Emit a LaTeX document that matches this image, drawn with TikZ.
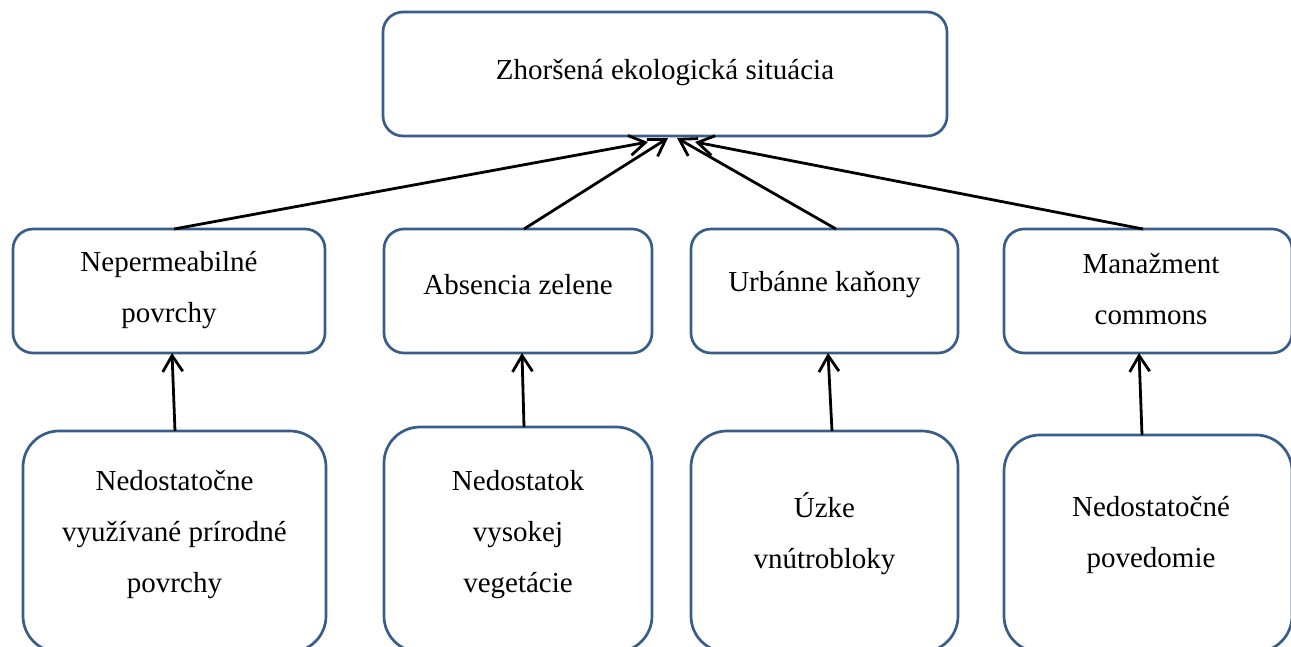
\documentclass[tikz,border=0pt]{standalone}
\usepackage{fontspec}
\setmainfont{Liberation Serif}
\usepackage{tikz}
\usetikzlibrary{arrows.meta}
\definecolor{c385d8a}{RGB}{56,93,138}

\begin{document}
\begin{tikzpicture}[x=1pt, y=-1pt, inner sep=0pt, outer sep=0pt,
  rect/.style={draw=c385d8a, line width=2.7pt, rounded corners=20pt},
  rectb/.style={rect, rounded corners=36pt},
  txt/.style={align=center, font=\fontsize{29}{51}\selectfont},
  arr/.style={draw=black, line width=2.8pt, -{Straight Barb[length=16pt,width=20pt]}}]
  \useasboundingbox (0,0) rectangle (1291,646);
  \node[rect, minimum width=564pt, minimum height=124pt] (rect0) at (665,74) {};
  \node[rect, minimum width=312pt, minimum height=124pt] (rect1) at (169,291) {};
  \node[rect, minimum width=268pt, minimum height=124pt] (rect2) at (518,291) {};
  \node[rect, minimum width=267pt, minimum height=124pt] (rect3) at (824.5,291) {};
  \node[rect, minimum width=288pt, minimum height=124pt] (rect4) at (1148,291) {};
  \node[rectb, minimum width=303pt, minimum height=221pt] (rect5) at (174.5,541.5) {};
  \node[rectb, minimum width=268pt, minimum height=225pt] (rect6) at (518,539.5) {};
  \node[rectb, minimum width=267pt, minimum height=221pt] (rect7) at (824.5,541.5) {};
  \node[rectb, minimum width=288pt, minimum height=217pt] (rect8) at (1148,543.5) {};
  \node[txt] (text0) at (665,73) {Zhoršená ekologická situácia};
  \node[txt] (text1) at (169,290) {Nepermeabilné\\povrchy};
  \node[txt] (text2) at (518,285) {Absencia zelene};
  \node[txt] (text3) at (824.5,285) {Urbánne kaňony};
  \node[txt] (text4) at (1151,289) {Manažment\\commons};
  \node[txt] (text5) at (174.5,535) {Nedostatočne\\využívané prírodné\\povrchy};
  \node[txt] (text6) at (518,535) {Nedostatok\\vysokej\\vegetácie};
  \node[txt] (text7) at (824.5,533.5) {Úzke\\vnútrobloky};
  \node[txt] (text8) at (1151,535) {Nedostatočné\\povedomie};
  \draw[arr] ([xshift=5pt]rect1.north) -- ([xshift=-17pt,yshift=-6pt]rect0.south);
  \draw[arr] ([xshift=6pt]rect2.north) -- ([xshift=3pt,yshift=-2pt]rect0.south);
  \draw[arr] ([xshift=11.5pt]rect3.north) -- ([xshift=12pt,yshift=-2pt]rect0.south);
  \draw[arr] ([xshift=-5pt]rect4.north) -- ([xshift=30pt,yshift=-6pt]rect0.south);
  \draw[arr] ([xshift=0.5pt]rect5.north) -- ([xshift=3pt]rect1.south);
  \draw[arr] ([xshift=6pt]rect6.north) -- ([xshift=4pt]rect2.south);
  \draw[arr] ([xshift=7.5pt]rect7.north) -- ([xshift=3.5pt]rect3.south);
  \draw[arr] ([xshift=-6pt]rect8.north) -- ([xshift=-9pt]rect4.south);
\end{tikzpicture}
\end{document}
